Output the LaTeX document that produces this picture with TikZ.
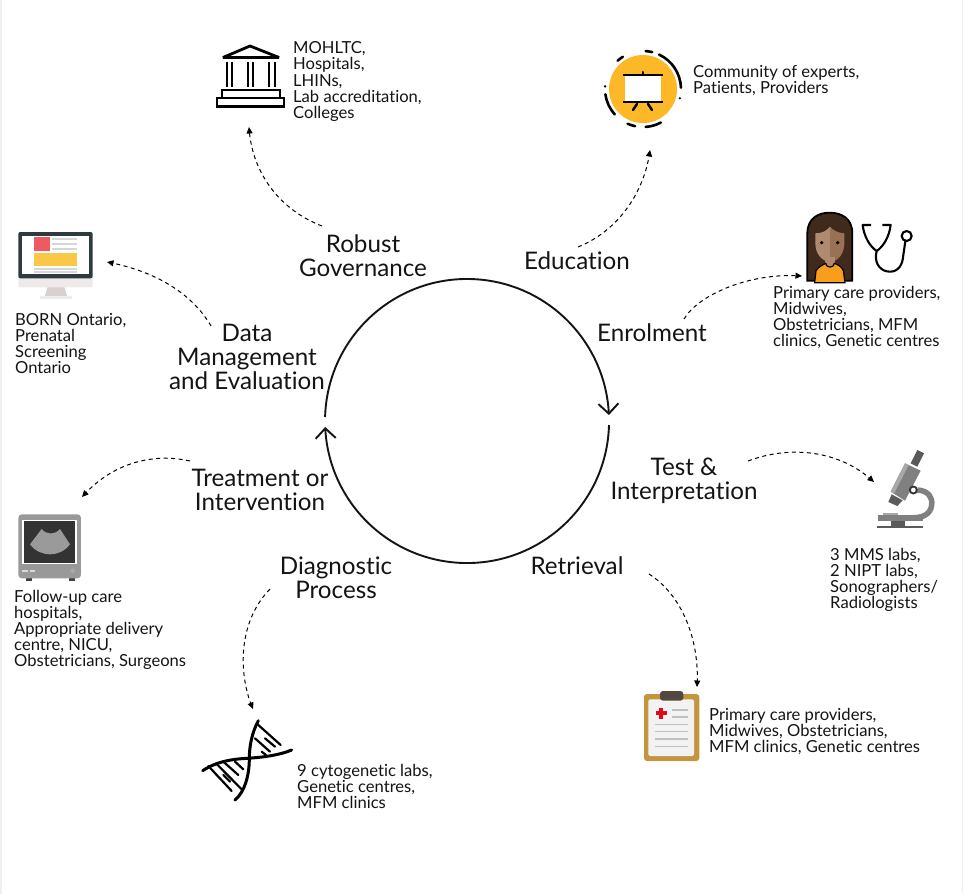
\documentclass[tikz,border=0pt]{standalone}
\usepackage{fontspec}
\setmainfont[Ligatures=NoCommon]{Lato}
\usetikzlibrary{arrows.meta,bending}
\definecolor{edgegray}{HTML}{EFEFEF}
\definecolor{eduyellow}{HTML}{FDB827}
\definecolor{hairbrown}{HTML}{3F2A1C}
\definecolor{skinl}{HTML}{B08A70}
\definecolor{skind}{HTML}{9A7057}
\definecolor{shirt}{HTML}{F99D1C}
\definecolor{scopedark}{HTML}{5A5A5A}
\definecolor{scopemid}{HTML}{808080}
\definecolor{scopelight}{HTML}{A8A8A8}
\definecolor{boardbrown}{HTML}{C4943F}
\definecolor{clipbrown}{HTML}{55463F}
\definecolor{crossred}{HTML}{E00A16}
\definecolor{casegray}{HTML}{999999}
\definecolor{screenblack}{HTML}{333333}
\definecolor{fangray}{HTML}{9A9A9A}
\definecolor{monframe}{HTML}{2F3A40}
\definecolor{monred}{HTML}{EE5A63}
\definecolor{monyellow}{HTML}{FBC748}
\definecolor{monline}{HTML}{D4D6DA}
\definecolor{monstand}{HTML}{EFEAEA}
\definecolor{monneck}{HTML}{D9D0D0}
\tikzset{
  biglabel/.style={inner sep=0pt,align=center,text=black!92,font=\fontsize{24.2}{24}\selectfont},
  smalllabel/.style={inner sep=0pt,align=left,anchor=west,text=black!92,font=\fontsize{16.6}{16}\selectfont},
  cycle/.style={line width=1.9pt,black!92},
  cycletip/.style={cycle,-{Straight Barb[length=10pt,width=20pt,line width=1.9pt]}},
  link/.style={line width=1pt,dash pattern=on 4pt off 3.5pt,-{Triangle[length=6.5pt,width=6pt]}},
}
\begin{document}
\begin{tikzpicture}[x=1pt,y=-1pt]
\useasboundingbox (0,0) rectangle (963,894);
\fill[white] (0,0) rectangle (963,894);
\fill[edgegray] (0,0) rectangle (1.5,894);
\fill[edgegray] (961.5,0) rectangle (963,894);

% central cycle
\coordinate (cycleTL) at (325.1,417);
\coordinate (cycleBR) at (609,425);
\draw[cycletip] (cycleTL) arc[start angle=178.4,end angle=2.4,radius=142pt];
\draw[cycletip] (cycleBR) arc[start angle=-1.6,end angle=-177.6,radius=142pt];

% big labels
\node[biglabel] (gov) at (363,256) {Robust\\Governance};
\node[biglabel] (edu) at (577,261) {Education};
\node[biglabel] (enrol) at (652,333) {Enrolment};
\node[biglabel] (test) at (684,480.5) {Test \&\\Interpretation};
\node[biglabel] (retr) at (577,566) {Retrieval};
\node[biglabel] (diag) at (336,578) {Diagnostic\\Process};
\node[biglabel] (treat) at (260,490) {Treatment or\\Intervention};
\node[biglabel] (data) at (247,357) {Data\\Management\\and Evaluation};

% small labels
\node[smalllabel] (govt) at (293,81.5) {MOHLTC,\\Hospitals,\\LHINs,\\Lab accreditation,\\Colleges};
\node[smalllabel] (edut) at (693,81) {Community of experts,\\Patients, Providers};
\node[smalllabel] (enrolt) at (773,318) {Primary care providers,\\Midwives,\\Obstetricians, MFM\\clinics, Genetic centres};
\node[smalllabel] (testt) at (830,580) {3 MMS labs,\\2 NIPT labs,\\Sonographers/\\Radiologists};
\node[smalllabel] (retrt) at (709,731) {Primary care providers,\\Midwives, Obstetricians,\\MFM clinics, Genetic centres};
\node[smalllabel] (diagt) at (297,786) {9 cytogenetic labs,\\Genetic centres,\\MFM clinics};
\node[smalllabel] (treatt) at (14,630) {Follow-up care\\hospitals,\\Appropriate delivery\\centre, NICU,\\Obstetricians, Surgeons};
\node[smalllabel] (datat) at (15,344) {BORN Ontario,\\Prenatal\\Screening\\Ontario};

% connector ends
\coordinate (govS) at (322,226);   \coordinate (govE) at (249,127);
\coordinate (eduS) at (578,247);   \coordinate (eduE) at (650,150);
\coordinate (enrolS) at (684,319); \coordinate (enrolE) at (802,276);
\coordinate (testS) at (748,461);  \coordinate (testE) at (874,482);
\coordinate (retrS) at (649,574);  \coordinate (retrE) at (697,687);
\coordinate (diagS) at (270,589);  \coordinate (diagE) at (253,709);
\coordinate (treatS) at (190,461); \coordinate (treatE) at (82,497);
\coordinate (dataS) at (211,326);  \coordinate (dataE) at (107,262);
\draw[link] (govS) .. controls (285,212) and (252,178) .. (govE);
\draw[link] (eduS) .. controls (620,230) and (645,190) .. (eduE);
\draw[link] (enrolS) .. controls (698,295) and (750,272) .. (enrolE);
\draw[link] (testS) .. controls (790,445) and (840,450) .. (testE);
\draw[link] (retrS) .. controls (682,595) and (700,640) .. (retrE);
\draw[link] (diagS) .. controls (235,625) and (240,680) .. (diagE);
\draw[link] (treatS) .. controls (150,452) and (110,465) .. (treatE);
\draw[link] (dataS) .. controls (190,290) and (150,270) .. (dataE);

% temple icon
\begin{scope}[line width=2.8pt]
\draw[line join=bevel] (223,57.5) -- (250,46) -- (279,57.5) -- cycle;
\foreach \c in {229.5,250.5,272}{
  \draw[line width=2.3pt] (\c-2.7,62) -- (\c-2.7,87);
  \draw[line width=2.3pt] (\c+2.7,62) -- (\c+2.7,87);
}
\draw (222,90) rectangle (280,98);
\draw (217,98) rectangle (284,106.5);
\end{scope}

% education icon
\fill[eduyellow] (643,89) circle[radius=34pt];
\begin{scope}[line width=2.6pt,line cap=round]
\draw (643,89) ++(65:38pt) arc[start angle=65,end angle=2,radius=38pt];
\draw (643,89) ++(86:38pt) arc[start angle=86,end angle=76,radius=38pt];
\draw (643,89) ++(132:38pt) arc[start angle=132,end angle=122,radius=38pt];
\draw (643,89) ++(188:38pt) arc[start angle=188,end angle=222,radius=38pt];
\draw (643,89) ++(-62:38pt) arc[start angle=-62,end angle=-86,radius=38pt];
\draw (643,89) ++(-102:38pt) arc[start angle=-102,end angle=-114,radius=38pt];
\fill (643,89) ++(176:38pt) circle[radius=1.3pt];
\fill (643,89) ++(-14:38pt) circle[radius=1.3pt];
\fill[white] (625,76) rectangle (661,102);
\draw[line width=2.4pt,line cap=butt] (623,75) -- (663,75);
\draw[line width=2.4pt,line cap=butt] (623,102) -- (663,102);
\draw[line width=2pt] (643,72) -- (643,75);
\draw[line width=2.4pt] (637,104) -- (633,110);
\draw[line width=2.4pt] (648,104) -- (652,110);
\end{scope}

% woman and stethoscope icon
\begin{scope}[shift={(790,200)},x=0.3333pt,y=-0.3333pt]
\draw[fill=hairbrown,line width=1.8pt] (52,242) -- (52,100) .. controls (52,55) and (85,38) .. (118,38) .. controls (155,38) and (187,55) .. (187,100) -- (187,242) -- cycle;
\fill[skinl] (76,100) .. controls (95,100) and (110,93) .. (120,80) -- (120,185) .. controls (95,185) and (76,160) .. (76,130) -- cycle;
\fill[skind] (120,80) .. controls (130,93) and (150,100) .. (163,100) -- (163,130) .. controls (163,160) and (145,185) .. (120,185) -- cycle;
\fill[skinl] (105,170) rectangle (135,205);
\draw[fill=shirt,line width=1.2pt] (74,248) -- (78,212) .. controls (85,200) and (98,195) .. (107,190) .. controls (108,205) and (132,205) .. (133,190) .. controls (145,195) and (155,200) .. (160,212) -- (165,248) -- cycle;
\fill (95,128) circle[radius=5.5];
\fill (143,128) circle[radius=5.5];
\draw[line width=2.1pt,line join=round] (243,75) -- (218,75) .. controls (222,110) and (240,140) .. (260,153) .. controls (280,140) and (298,110) .. (302,75) -- (277,75);
\draw[line width=2.1pt] (260,153) -- (258,165) .. controls (255,195) and (275,215) .. (300,215) .. controls (325,215) and (338,195) .. (340,165) -- (346,124);
\draw[line width=2.1pt] (350,108) circle[radius=5pt];
\end{scope}

% microscope icon
\begin{scope}[shift={(860,440)},x=0.3333pt,y=-0.3333pt]
\fill[scopedark] (172,30) -- (192,40) -- (172,80) -- (152,70) -- cycle;
\fill[scopemid] (135,70) -- (182,92) -- (135,182) -- (92,155) -- cycle;
\fill[scopelight] (135,70) -- (146,75) -- (102,161) -- (92,155) -- cycle;
\fill[scopedark] (95,163) -- (128,181) -- (112,198) -- (85,186) -- cycle;
\draw[scopemid,line width=5.5pt] (172,150) .. controls (205,152) and (218,172) .. (215,195) .. controls (212,222) and (190,233) .. (160,233);
\fill[scopemid] (55,225) rectangle (190,243);
\fill[scopelight] (70,218) rectangle (115,225);
\fill[scopedark] (92,243) rectangle (135,258);
\fill[scopedark] (50,258) rectangle (190,264);
\fill[black!80] (160,150) circle[radius=4.5pt];
\fill[white] (160,150) circle[radius=2.4pt];
\end{scope}

% clipboard icon
\begin{scope}[shift={(630,680)},x=0.3333pt,y=-0.3333pt]
\fill[boardbrown,rounded corners=3pt] (42,42) rectangle (208,243);
\fill[black!5,rounded corners=1.5pt] (55,58) rectangle (192,228);
\fill[clipbrown,rounded corners=3pt] (90,62) -- (90,33) -- (160,33) -- (160,62) -- cycle;
\fill[crossred] (88,84) rectangle (100,117);
\fill[crossred] (78,94) rectangle (110,106);
\foreach \yy in {90,111}{\fill[black!25] (125,\yy-2) rectangle (175,\yy+2);}
\foreach \yy in {133,155,177,199}{\fill[black!25] (75,\yy-2) rectangle (175,\yy+2);}
\end{scope}

% DNA icon
\begin{scope}[shift={(190,710)},x=0.3333pt,y=-0.3333pt,line cap=round]
\draw[line width=3pt] (38,182) .. controls (80,155) and (120,148) .. (170,145) .. controls (220,142) and (270,135) .. (305,120);
\draw[line width=3pt] (205,32) .. controls (185,70) and (178,110) .. (178,145) .. controls (178,195) and (165,245) .. (135,270);
\foreach \a/\b/\c/\d in {205/45/272/105, 195/85/240/125, 225/85/255/110, 215/125/228/135, 55/168/125/243, 78/160/155/238, 100/155/145/195, 135/155/160/178, 100/195/120/215}{
  \draw[line width=2.2pt] (\a,\b) -- (\c,\d);
}
\end{scope}

% ultrasound icon
\begin{scope}[shift={(5,505)},x=0.3333pt,y=-0.3333pt]
\fill[black!75] (62,215) rectangle (80,228);
\fill[black!75] (192,215) rectangle (210,228);
\fill[casegray,rounded corners=3.5pt] (40,28) rectangle (228,220);
\fill[white] (52,44) rectangle (215,178);
\fill[screenblack] (56,48) rectangle (210,174);
\fill[fangray] (75,118) -- (110,72) .. controls (125,90) and (150,90) .. (165,72) -- (195,118) .. controls (165,158) and (105,158) .. (75,118) -- cycle;
\fill[white!85!black] (52,195) rectangle (68,202);
\fill[white!85!black] (74,195) rectangle (90,202);
\fill[scopelight] (203,197) circle[radius=2.4pt];
\end{scope}

% monitor icon
\begin{scope}[shift={(5,220)},x=0.3333pt,y=-0.3333pt]
\fill[monneck] (128,200) -- (178,200) -- (186,228) -- (120,228) -- cycle;
\fill[monstand] (105,228) rectangle (200,236);
\fill[monstand,rounded corners=1pt] (40,170) rectangle (263,202);
\fill[monframe,rounded corners=2pt] (40,36) rectangle (263,175);
\fill[white] (50,48) rectangle (253,163);
\fill[monred] (87,52) rectangle (135,94);
\fill[monline] (141,54) rectangle (216,60);
\fill[monline] (141,68) rectangle (216,74);
\fill[monline] (141,83) rectangle (216,90);
\fill[monyellow] (87,98) rectangle (216,138);
\fill[monline] (87,143) rectangle (216,150);
\fill[monline] (87,154) rectangle (216,160);
\end{scope}
\end{tikzpicture}
\end{document}
